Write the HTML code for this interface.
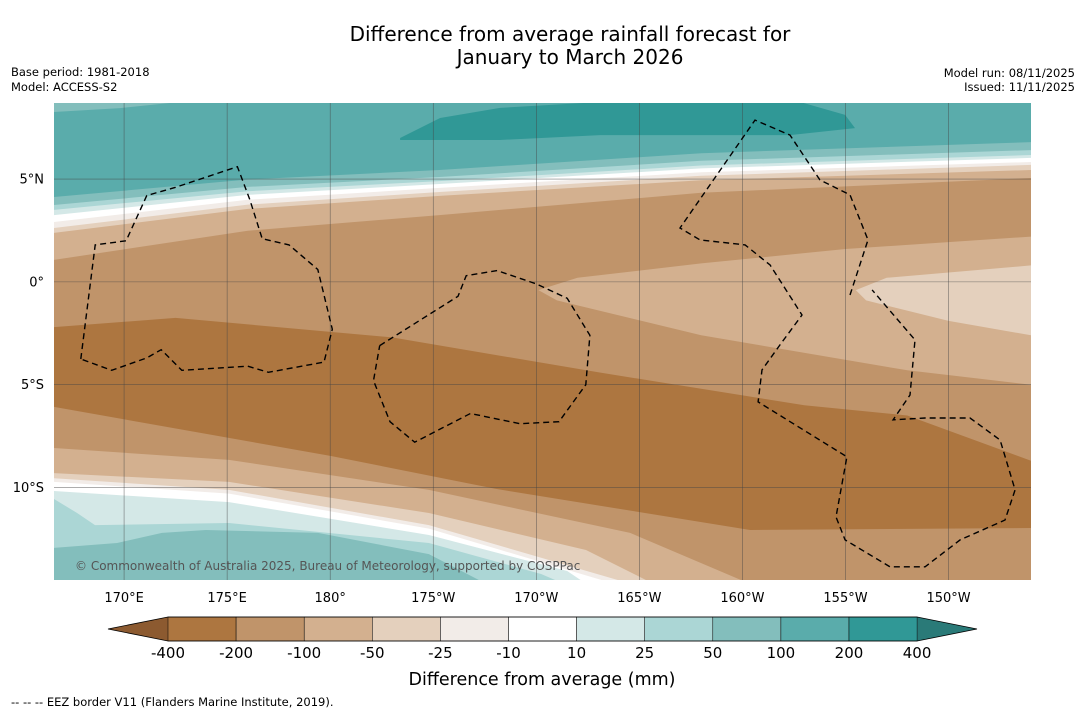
<!DOCTYPE html>
<html><head><meta charset="utf-8"><style>
body{margin:0;background:#fff;font-family:"Liberation Sans","DejaVu Sans",sans-serif}
svg text{font-family:"DejaVu Sans","Liberation Sans",sans-serif}
</style></head><body>
<svg id="chart" width="1085" height="713" viewBox="0 0 1085 713" xmlns="http://www.w3.org/2000/svg">
<rect width="1085" height="713" fill="#fff"/>
<text x="570" y="41" font-size="20" text-anchor="middle">Difference from average rainfall forecast for</text>
<text x="570" y="64" font-size="20" text-anchor="middle">January to March 2026</text>
<text x="11" y="76" font-size="11.5">Base period: 1981-2018</text>
<text x="11" y="91" font-size="11.5">Model: ACCESS-S2</text>
<text x="1075" y="77" font-size="11.5" text-anchor="end">Model run: 08/11/2025</text>
<text x="1075" y="91" font-size="11.5" text-anchor="end">Issued: 11/11/2025</text>
<defs><clipPath id="mc"><rect x="54" y="103" width="977" height="477"/></clipPath></defs>
<g id="map" clip-path="url(#mc)"></g>
<g id="grid"></g>
<g id="eez" clip-path="url(#mc)"></g>
<text x="75" y="570" font-size="12" fill="#555">© Commonwealth of Australia 2025, Bureau of Meteorology, supported by COSPPac</text>
<g id="axes"></g>
<g id="cbar"></g>
<text x="542" y="685" font-size="17.5" text-anchor="middle">Difference from average (mm)</text>
<text x="11" y="706" font-size="11.5">--  --  -- EEZ border V11 (Flanders Marine Institute, 2019).</text>
</svg>
<script>
const NS="http://www.w3.org/2000/svg";
const levels=[-400,-200,-100,-50,-25,-10,10,25,50,100,200,400];
const colors=["#ad7640","#c0946a","#d3b08f","#e4d0bd","#f2ece8","#ffffff","#d4e8e7","#abd6d5","#83bebc","#5aacab","#309896"];
const xTickLabels=["170°E","175°E","180°","175°W","170°W","165°W","160°W","155°W","150°W"];
const xTickLons=[170,175,180,185,190,195,200,205,210];
const yTickLabels=["5°N","0°","5°S","10°S"];
const yTickLats=[5,0,-5,-10];
const lon0=166.6,lon1=214.0,lat0=8.7,lat1=-14.5;
const X0=54,X1=1031,Y0=103,Y1=580;
const xs=l=>X0+(l-lon0)/(lon1-lon0)*(X1-X0);
const ys=l=>Y0+(lat0-l)/(lat0-lat1)*(Y1-Y0);
const northBounds=[
 [2,[[166.6,1.07],[176,2.49],[185.3,3.25],[198,4.33],[214,5.05]]],
 [3,[[166.6,2.38],[176,3.55],[185.3,4.18],[198,4.94],[214,5.44]]],
 [4,[[166.6,2.62],[176,3.76],[185.3,4.37],[198,5.16],[214,5.69]]],
 [5,[[166.6,2.91],[176,3.99],[185.3,4.57],[198,5.33],[214,5.83]]],
 [6,[[166.6,3.25],[176,4.23],[185.3,4.76],[198,5.52],[214,6.03]]],
 [7,[[166.6,3.5],[176,4.41],[185.3,4.9],[198,5.66],[214,6.17]]],
 [8,[[166.6,3.74],[176,4.62],[185.3,5.1],[198,5.89],[214,6.41]]],
 [9,[[166.6,4.13],[176,4.98],[185.3,5.44],[198,6.26],[214,6.8]]]
];
const blobTopLeft=[[166.6,8.75],[166.6,8.26],[169.8,8.45],[172.7,8.75]];
const blobTeal=[[183.39,7.0],[185.33,7.97],[188.24,8.46],[193.1,8.75],[202.8,8.75],[204.98,8.12],[205.46,7.48],[202.31,7.14],[193.09,7.14],[188.24,6.9],[183.39,6.9]];
const blobTan=[[190.1,-0.4],[192,0.2],[198,0.9],[205,1.6],[214,2.2],[214,-5.0],[208,-4.3],[198,-2.6],[191,-0.9]];
const blobLight=[[205.5,-0.4],[207,0.2],[214,0.8],[214,-2.6],[210,-1.9],[206,-0.9]];
const darkTop=[[166.6,-2.2],[172.5,-1.75],[183,-2.7],[193,-4.4],[203,-6.0],[208,-6.5],[214,-8.7]];
const darkBot=[[214,-11.97],[200.37,-12.07],[188.04,-10.07],[180.04,-8.47],[166.6,-6.08]];
const southBounds=[
 [2,[[166.6,-8.08],[175.09,-8.66],[184.79,-10.12],[194.55,-12.21],[200.37,-14.69]]],
 [3,[[166.6,-9.3],[175.09,-9.73],[184.79,-11.24],[192.41,-13.04],[195.52,-14.6]]],
 [4,[[166.6,-9.55],[175.09,-10.12],[184.79,-11.83],[194.3,-14.6]]],
 [5,[[166.6,-9.73],[175.09,-10.3],[184.79,-12.0],[193.5,-14.6]]],
 [6,[[166.6,-10.17],[175.09,-10.71],[184.79,-12.31],[191.5,-14.06],[192.3,-14.6]]],
 [7,[[166.6,-10.56],[167.72,-11.24],[168.59,-11.83],[175.09,-11.73],[184.79,-12.7],[190.23,-14.21],[191.15,-14.6]]],
 [8,[[166.6,-12.94],[169.66,-12.7],[171.84,-12.21],[173.97,-12.07],[179.41,-12.21],[184.79,-13.24],[187.41,-14.6]]]
];
const eezLines=[
 [[167.9,-3.75],[168.6,1.8],[170.1,2.0],[171.1,4.2],[172.5,4.6],[175.5,5.6],[176.1,4.0],[176.7,2.1],[178,1.8],[179.4,0.6],[180.1,-2.3],[179.7,-3.9],[177,-4.4],[176,-4.1],[172.8,-4.3],[171.8,-3.3],[171.1,-3.7],[169.4,-4.3],[167.9,-3.75]],
 [[182.4,-3.1],[186.2,-0.7],[186.6,0.3],[188.1,0.55],[190,-0.1],[191.5,-0.8],[192.6,-2.6],[192.4,-5.0],[191.1,-6.8],[189.2,-6.9],[186.8,-6.4],[184.1,-7.8],[182.9,-6.8],[182.1,-4.8],[182.4,-3.1]],
 [[205.22,-0.64],[206.09,2.04],[205.22,4.23],[203.76,4.96],[202.31,7.14],[200.61,7.87],[196.97,2.62],[197.94,2.04],[200.13,1.8],[201.34,0.82],[202.89,-1.61],[201.82,-3.07],[200.95,-4.28],[200.76,-5.84],[205.07,-8.51],[204.54,-11.43],[204.98,-12.55],[207.16,-13.86],[208.86,-13.86],[210.56,-12.55],[212.74,-11.58],[213.23,-10.12],[212.5,-7.69],[211.04,-6.62],[208.86,-6.62],[207.31,-6.71],[208.13,-5.5],[208.37,-2.82],[206.29,-0.39]]
];
function pts(a){return a.map(p=>xs(p[0]).toFixed(1)+","+ys(p[1]).toFixed(1)).join(" ");}
function poly(g,p,fill,name){const e=document.createElementNS(NS,"polygon");e.setAttribute("points",p);e.setAttribute("fill",fill);


g.appendChild(e);}
const map=document.getElementById("map");
poly(map,`${X0},${Y0} ${X1},${Y0} ${X1},${Y1} ${X0},${Y1}`,colors[1],"base-fill");
northBounds.forEach(b=>{poly(map,`${X0-5},${Y0-5} ${pts(b[1])} ${X1+5},${Y0-5}`,colors[b[0]],"north-band-"+b[0]);});
poly(map,pts(blobTopLeft),colors[8],"teal-light-corner");
poly(map,pts(blobTeal),colors[10],"teal-maximum-blob");
poly(map,pts(blobTan),colors[2],"tan-blob-east");
poly(map,pts(blobLight),colors[3],"light-blob-east");
poly(map,pts(darkTop)+" "+pts(darkBot),colors[0],"dry-core-band");
southBounds.forEach(b=>{poly(map,`${pts(b[1])} ${X1+5},${Y1+5} ${X0-5},${Y1+5}`,colors[b[0]],"south-band-"+b[0]);});
const grid=document.getElementById("grid");
xTickLons.forEach(l=>{const e=document.createElementNS(NS,"line");e.setAttribute("x1",xs(l));e.setAttribute("x2",xs(l));e.setAttribute("y1",Y0);e.setAttribute("y2",Y1);e.setAttribute("stroke","#444");e.setAttribute("stroke-width","0.6");e.setAttribute("stroke-opacity","0.7");


grid.appendChild(e);});
yTickLats.forEach(l=>{const e=document.createElementNS(NS,"line");e.setAttribute("y1",ys(l));e.setAttribute("y2",ys(l));e.setAttribute("x1",X0);e.setAttribute("x2",X1);e.setAttribute("stroke","#444");e.setAttribute("stroke-width","0.6");e.setAttribute("stroke-opacity","0.7");


grid.appendChild(e);});
const eez=document.getElementById("eez");
eezLines.forEach(l=>{const e=document.createElementNS(NS,"polyline");e.setAttribute("points",pts(l));e.setAttribute("fill","none");e.setAttribute("stroke","#000");e.setAttribute("stroke-width","1.4");e.setAttribute("stroke-dasharray","6,4");


eez.appendChild(e);});
const ax=document.getElementById("axes");
xTickLabels.forEach((t,i)=>{const e=document.createElementNS(NS,"text");e.setAttribute("x",xs(xTickLons[i]));e.setAttribute("y",602);e.setAttribute("font-size","13");e.setAttribute("text-anchor","middle");e.textContent=t;


ax.appendChild(e);});
yTickLabels.forEach((t,i)=>{const e=document.createElementNS(NS,"text");e.setAttribute("x",44);e.setAttribute("y",ys(yTickLats[i])+4.5);e.setAttribute("font-size","13");e.setAttribute("text-anchor","end");e.textContent=t;


ax.appendChild(e);});
const cb=document.getElementById("cbar");const cx0=168,cw=68.1,cy=617,ch=24;
poly(cb,`108,${cy+ch/2} ${cx0},${cy} ${cx0},${cy+ch}`,"#8c5a30","colorbar-extend-low");
poly(cb,`${cx0+11*cw},${cy} 977,${cy+ch/2} ${cx0+11*cw},${cy+ch}`,"#2a7a78","colorbar-extend-high");
colors.forEach((c,i)=>{const e=document.createElementNS(NS,"rect");e.setAttribute("x",cx0+i*cw);e.setAttribute("y",cy);e.setAttribute("width",cw);e.setAttribute("height",ch);e.setAttribute("fill",c);e.setAttribute("stroke","#000");e.setAttribute("stroke-width","0.5");


cb.appendChild(e);});
const o=document.createElementNS(NS,"polygon");o.setAttribute("points",`108,${cy+ch/2} ${cx0},${cy} ${cx0+11*cw},${cy} 977,${cy+ch/2} ${cx0+11*cw},${cy+ch} ${cx0},${cy+ch}`);o.setAttribute("fill","none");o.setAttribute("stroke","#000");o.setAttribute("stroke-width","0.8");


cb.appendChild(o);
levels.forEach((v,i)=>{const e=document.createElementNS(NS,"text");e.setAttribute("x",cx0+i*cw);e.setAttribute("y",658);e.setAttribute("font-size","15");e.setAttribute("text-anchor","middle");e.textContent=v;


cb.appendChild(e);});
</script>
</body></html>
